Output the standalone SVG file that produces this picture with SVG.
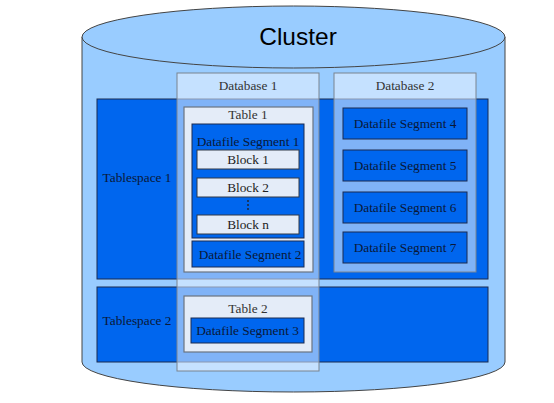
<svg xmlns="http://www.w3.org/2000/svg" width="554" height="403" viewBox="0 0 554 403">
<style>
.t{font-family:"Liberation Serif","Times New Roman",serif;font-size:13.3px;fill:#0a1838;text-anchor:middle;dominant-baseline:central}
.ts{fill:#0066ee;stroke:#1a2a50;stroke-width:1}
.db{fill:#eaf2ff;fill-opacity:0.55;stroke:#7a8490;stroke-width:1}
.tb{fill:#e4ecf8;stroke:#6a7480;stroke-width:1.2}
.seg{fill:#0066ee;stroke:#1a2a50;stroke-width:1}
.blk{fill:#e4ecf8;stroke:#303846;stroke-width:1}
</style>
<rect width="554" height="403" fill="#fff"/>
<g id="cluster">
<path d="M82,37 L82,362 A211.5,30 0 0 0 505,362 L505,37 Z" fill="#99ccff" stroke="#444" stroke-width="1"/>
<ellipse cx="293.5" cy="37" rx="211.5" ry="31" fill="#99ccff" stroke="#444" stroke-width="1"/>
<text x="298" y="36" style="font-family:'Liberation Sans',Arial,sans-serif;font-size:24.5px;fill:#000;text-anchor:middle;dominant-baseline:central">Cluster</text>
</g>
<g id="tablespace1">
<rect class="ts" x="97" y="99" width="391" height="180"/>
<text class="t" x="137" y="177">Tablespace 1</text>
</g>
<g id="tablespace2">
<rect class="ts" x="97" y="287" width="391" height="75"/>
<text class="t" x="137" y="320">Tablespace 2</text>
</g>
<g id="database1">
<rect class="db" x="177" y="73" width="142" height="298"/>
<text class="t" x="248" y="85" style="fill:#333">Database 1</text>
</g>
<g id="database2">
<rect class="db" x="334" y="73" width="142" height="199"/>
<text class="t" x="405" y="85" style="fill:#333">Database 2</text>
</g>
<g id="table1">
<rect class="tb" x="184" y="107" width="129" height="165"/>
<text class="t" x="248" y="114" style="fill:#333">Table 1</text>
</g>
<g id="seg1">
<rect class="seg" x="192" y="124" width="112" height="114"/>
<text class="t" x="248" y="141">Datafile Segment 1</text>
</g>
<g id="block1">
<rect class="blk" x="197" y="150" width="102" height="19"/>
<text class="t" x="248" y="159.5" style="fill:#222">Block 1</text>
</g>
<g id="block2">
<rect class="blk" x="197" y="178" width="102" height="19"/>
<text class="t" x="248" y="187.5" style="fill:#222">Block 2</text>
</g>
<g id="dots">
<circle cx="248" cy="201" r="0.9" fill="#222"/>
<circle cx="248" cy="205" r="0.9" fill="#222"/>
<circle cx="248" cy="209" r="0.9" fill="#222"/>
</g>
<g id="blockn">
<rect class="blk" x="197" y="215" width="102" height="19"/>
<text class="t" x="248" y="224.5" style="fill:#222">Block n</text>
</g>
<g id="seg2">
<rect class="seg" x="192" y="241" width="112" height="26"/>
<text class="t" x="250" y="254">Datafile Segment 2</text>
</g>
<g id="table2">
<rect class="tb" x="184" y="296" width="128" height="56"/>
<text class="t" x="248" y="308" style="fill:#333">Table 2</text>
</g>
<g id="seg3">
<rect class="seg" x="191" y="318" width="113" height="25"/>
<text class="t" x="247.5" y="330.5">Datafile Segment 3</text>
</g>
<g id="seg4">
<rect class="seg" x="343" y="108" width="124" height="31"/>
<text class="t" x="405" y="123.5">Datafile Segment 4</text>
</g>
<g id="seg5">
<rect class="seg" x="343" y="150" width="124" height="31"/>
<text class="t" x="405" y="165.5">Datafile Segment 5</text>
</g>
<g id="seg6">
<rect class="seg" x="343" y="192" width="124" height="31"/>
<text class="t" x="405" y="207.5">Datafile Segment 6</text>
</g>
<g id="seg7">
<rect class="seg" x="343" y="232" width="124" height="31"/>
<text class="t" x="405" y="247.5">Datafile Segment 7</text>
</g>
<g id="connectors"></g>
</svg>
